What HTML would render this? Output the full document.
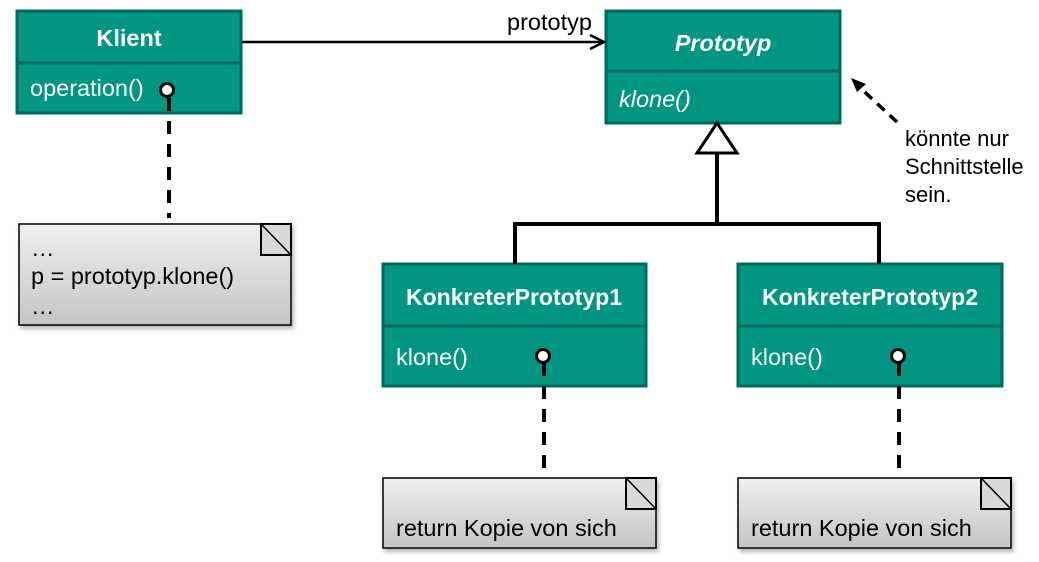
<!DOCTYPE html>
<html><head><meta charset="utf-8"><style>
html,body{margin:0;padding:0;background:#fff;}
svg{display:block;font-family:"Liberation Sans",Arial,sans-serif;}
</style></head><body>
<svg width="1039" height="562" viewBox="0 0 1039 562" xmlns="http://www.w3.org/2000/svg">
<defs>
<linearGradient id="g" x1="0" y1="0" x2="0" y2="1"><stop offset="0" stop-color="#efefef"/><stop offset="1" stop-color="#c4c4c4"/></linearGradient>
<filter id="s" x="-5%" y="-5%" width="115%" height="120%"><feDropShadow dx="2" dy="3" stdDeviation="2" flood-color="#000" flood-opacity="0.3"/></filter>
</defs>
<!-- Klient -->
<rect x="17" y="11" width="224" height="102" fill="#009681" stroke="#006b5b" stroke-width="3"/>
<line x1="17" y1="63" x2="241" y2="63" stroke="#006b5b" stroke-width="3"/>
<text x="129" y="46" fill="#fff" font-size="23.5" font-weight="bold" text-anchor="middle">Klient</text>
<text x="30" y="96" fill="#fff" font-size="23.5">operation()</text>
<!-- Prototyp -->
<rect x="606" y="11" width="234" height="112" fill="#009681" stroke="#006b5b" stroke-width="3"/>
<line x1="606" y1="71" x2="840" y2="71" stroke="#006b5b" stroke-width="3"/>
<text x="723" y="51" fill="#fff" font-size="23.5" font-weight="bold" font-style="italic" text-anchor="middle">Prototyp</text>
<text x="619" y="107" fill="#fff" font-size="23.5" font-style="italic">klone()</text>
<!-- KP1 -->
<rect x="383" y="264" width="263" height="122" fill="#009681" stroke="#006b5b" stroke-width="3"/>
<line x1="383" y1="326" x2="646" y2="326" stroke="#006b5b" stroke-width="3"/>
<text x="514" y="305" fill="#fff" font-size="23" font-weight="bold" text-anchor="middle">KonkreterPrototyp1</text>
<text x="396" y="365" fill="#fff" font-size="23.5">klone()</text>
<!-- KP2 -->
<rect x="738" y="264" width="264" height="122" fill="#009681" stroke="#006b5b" stroke-width="3"/>
<line x1="738" y1="326" x2="1002" y2="326" stroke="#006b5b" stroke-width="3"/>
<text x="870" y="305" fill="#fff" font-size="23" font-weight="bold" text-anchor="middle">KonkreterPrototyp2</text>
<text x="751" y="365" fill="#fff" font-size="23.5">klone()</text>
<!-- association -->
<line x1="242" y1="42" x2="602" y2="42" stroke="#000" stroke-width="2.5"/>
<path d="M590,35 L604,42 L590,49" fill="none" stroke="#000" stroke-width="2.5"/>
<text x="507" y="30" font-size="23.5" fill="#000">prototyp</text>
<!-- inheritance -->
<polygon points="717,123 697,153 737,153" fill="#fff" stroke="#000" stroke-width="3"/>
<line x1="717" y1="153" x2="717" y2="224" stroke="#000" stroke-width="4"/>
<polyline points="515,264 515,224 879,224 879,264" fill="none" stroke="#000" stroke-width="4"/>
<!-- comment arrow -->
<line x1="897" y1="122" x2="856" y2="84" stroke="#000" stroke-width="3.5" stroke-dasharray="10,7"/>
<path d="M851,78 L866,84 L857,92 Z" fill="#000"/>
<text font-size="22" fill="#000"><tspan x="905" y="146">könnte nur</tspan><tspan x="905" y="174">Schnittstelle</tspan><tspan x="905" y="202">sein.</tspan></text>
<!-- dashed note links -->
<line x1="169" y1="98" x2="169" y2="218" stroke="#000" stroke-width="4" stroke-dasharray="13,10"/>
<line x1="544" y1="363" x2="544" y2="477" stroke="#000" stroke-width="4" stroke-dasharray="13,10"/>
<line x1="899" y1="363" x2="899" y2="477" stroke="#000" stroke-width="4" stroke-dasharray="13,10"/>
<circle cx="167" cy="90" r="6.5" fill="#fff" stroke="#000" stroke-width="3"/>
<circle cx="543" cy="356" r="6.5" fill="#fff" stroke="#000" stroke-width="3"/>
<circle cx="898" cy="356" r="6.5" fill="#fff" stroke="#000" stroke-width="3"/>
<!-- notes -->
<g filter="url(#s)"><rect x="19" y="224" width="272" height="101" fill="url(#g)" stroke="#000" stroke-width="1.5"/></g>
<rect x="261" y="224" width="30" height="31" fill="#d8d8d8" stroke="#000" stroke-width="2"/><line x1="261" y1="224" x2="291" y2="255" stroke="#000" stroke-width="1.5"/>
<text font-size="23.5" fill="#000"><tspan x="31" y="256">…</tspan><tspan x="31" y="284">p = prototyp.klone()</tspan><tspan x="31" y="314">…</tspan></text>
<g filter="url(#s)"><rect x="383" y="478" width="273" height="70" fill="url(#g)" stroke="#000" stroke-width="1.5"/></g>
<rect x="626" y="478" width="30" height="31" fill="#d8d8d8" stroke="#000" stroke-width="2"/><line x1="626" y1="478" x2="656" y2="509" stroke="#000" stroke-width="1.5"/>
<text x="396" y="536" font-size="23.5" fill="#000">return Kopie von sich</text>
<g filter="url(#s)"><rect x="738" y="478" width="273" height="70" fill="url(#g)" stroke="#000" stroke-width="1.5"/></g>
<rect x="981" y="478" width="30" height="31" fill="#d8d8d8" stroke="#000" stroke-width="2"/><line x1="981" y1="478" x2="1011" y2="509" stroke="#000" stroke-width="1.5"/>
<text x="751" y="536" font-size="23.5" fill="#000">return Kopie von sich</text>
</svg>
</body></html>
